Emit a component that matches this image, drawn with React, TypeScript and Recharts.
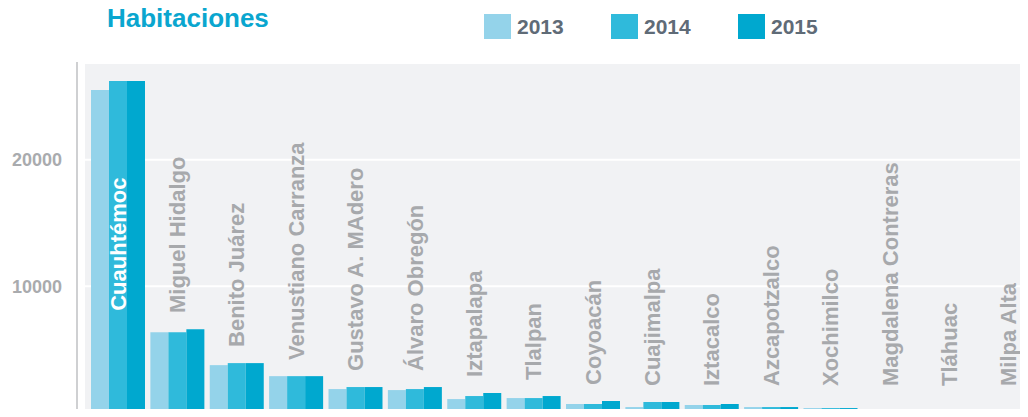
import { BarChart, Bar, XAxis, YAxis, CartesianGrid } from 'recharts';

const CATEGORIES = [
  'Cuauhtémoc', 'Miguel Hidalgo', 'Benito Juárez', 'Venustiano Carranza', 'Gustavo A. MAdero',
  'Álvaro Obregón', 'Iztapalapa', 'Tlalpan', 'Coyoacán', 'Cuajimalpa', 'Iztacalco',
  'Azcapotzalco', 'Xochimilco', 'Magdalena Contreras', 'Tláhuac', 'Milpa Alta',
];

const VALUES_2013 = [25500, 6380, 3780, 2910, 1890, 1810, 1100, 1180, 710, 470, 630, 470, 390, 240, 0, 0];
const VALUES_2014 = [26220, 6380, 3940, 2910, 2050, 1890, 1340, 1180, 710, 870, 630, 470, 390, 240, 0, 0];
const VALUES_2015 = [26220, 6610, 3940, 2910, 2050, 2050, 1580, 1340, 950, 870, 710, 470, 390, 240, 0, 0];

const Y_TICKS = [10000, 20000];
const Y_MAX = 27640;

const COLORS = {
  y2013: '#94d3ea',
  y2014: '#2fbadb',
  y2015: '#00a8cf',
};

const SERIES = [
  { key: 'y2013', name: '2013' },
  { key: 'y2014', name: '2014' },
  { key: 'y2015', name: '2015' },
];

const data = CATEGORIES.map((name, i) => ({
  name,
  y2013: VALUES_2013[i],
  y2014: VALUES_2014[i],
  y2015: VALUES_2015[i],
}));

const FONT = '"Liberation Sans", Arial, sans-serif';
const PLOT_TOP = 63;
const PLOT_BOTTOM = 414;
const PLOT_HEIGHT = PLOT_BOTTOM - PLOT_TOP;

// district name drawn as an x tick, rotated, above the tallest bar of the group
// (or inside it, in white, when it won't fit)
const GroupTick = (props: any) => {
  const { x, payload } = props;
  const i = CATEGORIES.indexOf(payload?.value);
  if (i < 0) return null;
  const max = Math.max(VALUES_2013[i], VALUES_2014[i], VALUES_2015[i]);
  const top = PLOT_BOTTOM - (max / Y_MAX) * PLOT_HEIGHT;
  const inside = top - PLOT_TOP < 200;
  const ty = inside ? PLOT_BOTTOM - (PLOT_BOTTOM - top) * 0.31 : Math.min(top - 17, PLOT_BOTTOM - 28);
  return (
    <text
      x={x}
      y={ty}
      dy={8}
      transform={`rotate(-90, ${x}, ${ty})`}
      textAnchor="start"
      fill={inside ? '#ffffff' : '#a7a9ac'}
      fontFamily={FONT}
      fontWeight={700}
      fontSize={22}
    >
      {CATEGORIES[i]}
    </text>
  );
};

export default function App() {
  return (
    <div style={{ position: 'relative', margin: -8, width: 1028, height: 417, overflow: 'hidden', background: '#fff' }}>
      <div
        style={{
          position: 'absolute', left: 107, top: 3, fontFamily: FONT, fontWeight: 700,
          fontSize: 26, color: '#0aa6cf',
        }}
      >
        Habitaciones
      </div>
      <div style={{ position: 'absolute', left: 484, top: 14, display: 'flex', fontFamily: FONT }}>
        {SERIES.map((s) => (
          <div key={s.key} style={{ display: 'flex', alignItems: 'center', width: 127 }}>
            <div style={{ width: 27, height: 25, background: COLORS[s.key as keyof typeof COLORS] }} />
            <span style={{ marginLeft: 6, fontSize: 21, fontWeight: 700, color: '#5f6b77' }}>{s.name}</span>
          </div>
        ))}
      </div>
      <div style={{ position: 'absolute', left: 76, top: 62, width: 2, height: 355, background: '#cfd0d2' }} />
      <div style={{ position: 'absolute', left: 0, top: 0 }}>
        <BarChart
          width={1045}
          height={417}
          data={data}
          margin={{ top: PLOT_TOP, right: 4, bottom: 417 - PLOT_BOTTOM, left: 0 }}
          barSize={18}
          barGap={0}
        >
          <CartesianGrid vertical={false} fill="#f1f2f4" stroke="#ffffff" strokeWidth={2} />
          <YAxis
            width={85}
            domain={[0, Y_MAX]}
            ticks={Y_TICKS}
            axisLine={false}
            tickLine={false}
            tickMargin={17}
            tick={{ fill: '#a9abae', fontSize: 18, fontWeight: 700, fontFamily: FONT }}
          />
          <Bar dataKey="y2013" name="2013" fill={COLORS.y2013} isAnimationActive={false} />
          <Bar dataKey="y2014" name="2014" fill={COLORS.y2014} isAnimationActive={false} />
          <Bar dataKey="y2015" name="2015" fill={COLORS.y2015} isAnimationActive={false} />
          <XAxis
            dataKey="name"
            height={1}
            padding={{ left: 3, right: 3 }}
            axisLine={false}
            tickLine={false}
            interval={0}
            tick={<GroupTick />}
          />
        </BarChart>
      </div>
    </div>
  );
}
